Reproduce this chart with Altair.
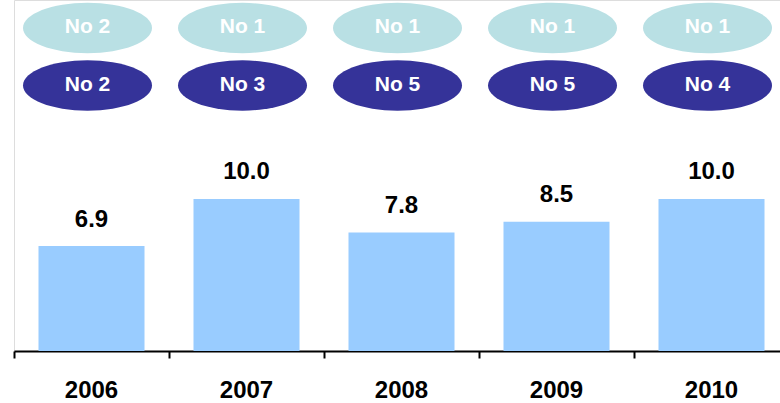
import altair as alt
import pandas as pd

# Yearly scores with the two ranking badges shown above each bar
years = ["2006", "2007", "2008", "2009", "2010"]
scores = [6.9, 10.0, 7.8, 8.5, 10.0]
rank_top = ["No 2", "No 1", "No 1", "No 1", "No 1"]
rank_bottom = ["No 2", "No 3", "No 5", "No 5", "No 4"]

df = pd.DataFrame({
    "year": years,
    "score": scores,
    "top": rank_top,
    "bottom": rank_bottom,
})

FONT = "Liberation Sans"
BAR = "#99ccff"
LIGHT = "#b9e0e4"
DARK = "#353399"
ELLIPSE = "M-1,0A1,0.39 0 1 1 1,0A1,0.39 0 1 1 -1,0Z"

x_enc = alt.X(
    "year:N",
    sort=years,
    scale=alt.Scale(range=[0, 775], paddingInner=0, paddingOuter=0),
    axis=alt.Axis(
        title=None,
        labels=False,
        tickBand="extent",
        domainColor="black",
        domainWidth=2,
        tickColor="black",
        tickWidth=2,
        tickSize=7,
        grid=False,
    ),
)

base = alt.Chart(df).encode(x=x_enc)

bars = base.mark_bar(color=BAR, width=alt.RelativeBandSize(0.684)).encode(
    y=alt.Y("score:Q", scale=alt.Scale(domain=[0, 23.09], nice=False, zero=True), axis=None)
)

value_labels = base.mark_text(
    font=FONT, fontSize=24, fontWeight="bold", color="black",
    baseline="alphabetic", dy=-19.5,
).encode(
    y=alt.Y("score:Q"),
    text=alt.Text("score:Q", format=".1f"),
)

year_labels = base.mark_text(
    font=FONT, fontSize=24, fontWeight="bold", color="black", baseline="alphabetic",
).encode(y=alt.value(398), text="year:N")

top_badges = base.mark_point(
    shape=ELLIPSE, size=16641, filled=True, opacity=1, color=LIGHT, strokeWidth=0, xOffset=-4,
).encode(y=alt.value(28))

top_text = base.mark_text(
    font=FONT, fontSize=21, fontWeight="bold", color="white", baseline="alphabetic", xOffset=-4,
).encode(y=alt.value(33.3), text="top:N")

bottom_badges = base.mark_point(
    shape=ELLIPSE, size=16641, filled=True, opacity=1, color=DARK, strokeWidth=0, xOffset=-4,
).encode(y=alt.value(85.5))

bottom_text = base.mark_text(
    font=FONT, fontSize=21, fontWeight="bold", color="white", baseline="alphabetic", xOffset=-4,
).encode(y=alt.value(91), text="bottom:N")

chart = alt.layer(
    bars, value_labels, year_labels, top_badges, top_text, bottom_badges, bottom_text
).properties(
    width=766,
    height=351,
    autosize=alt.AutoSizeParams(type="none"),
    padding={"left": 14, "top": 0, "right": 0, "bottom": 52},
).configure_view(stroke=None).configure(background="white")

chart.save("out.html", embed_options={"renderer": "svg", "actions": False})
